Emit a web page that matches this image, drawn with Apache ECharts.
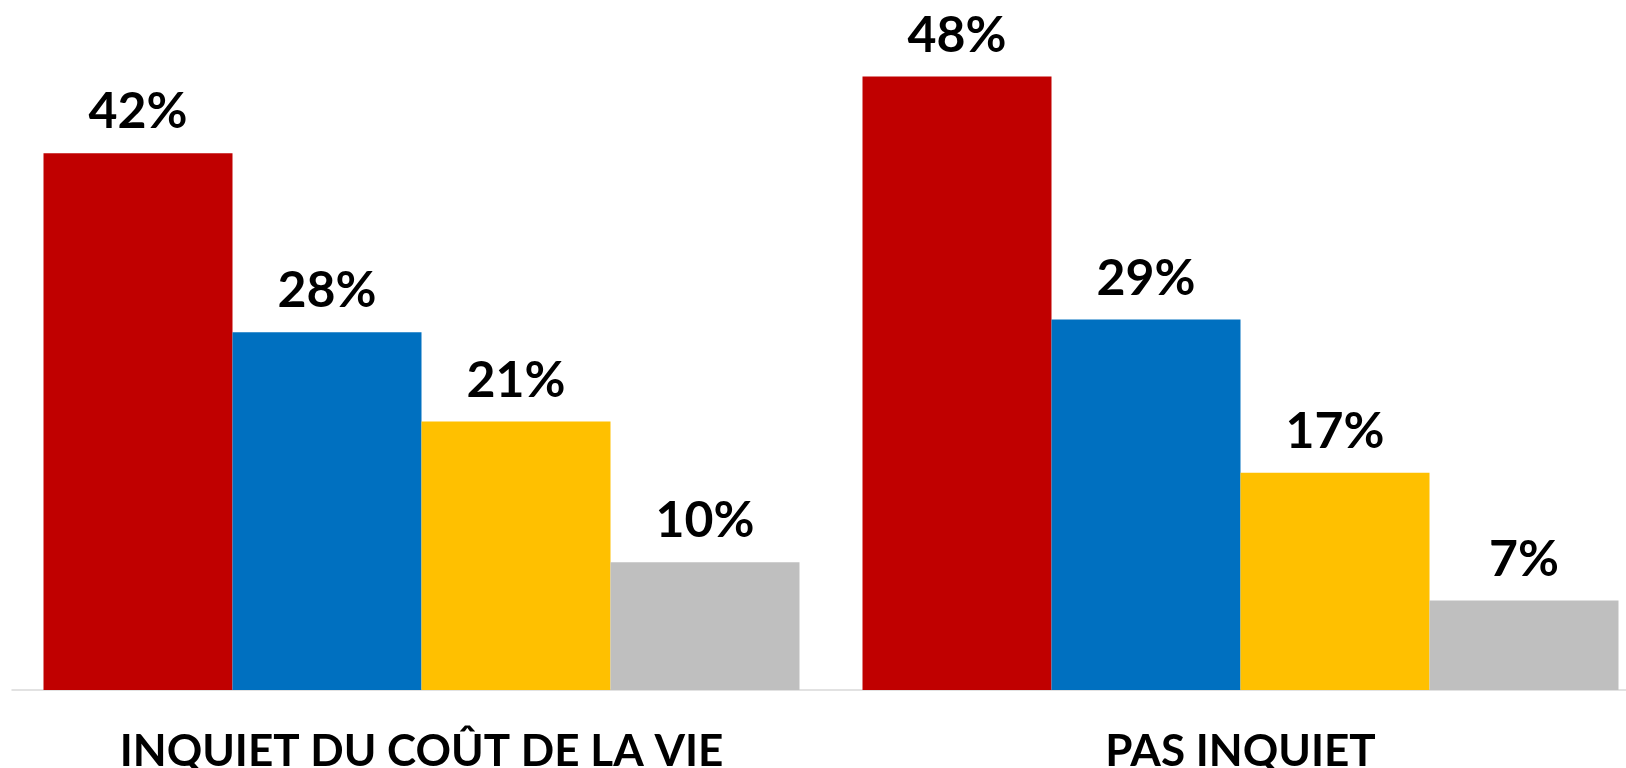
<!DOCTYPE html>
<html>
<head>
<meta charset="utf-8">
<script src="https://cdn.jsdelivr.net/npm/echarts@6/dist/echarts.min.js"></script>
<style>
html,body{margin:0;padding:0;background:#fff;}
#chart{width:1626px;height:768px;}
</style>
</head>
<body>
<div id="chart"></div>
<script>
const categories = ['INQUIET DU COÛT DE LA VIE', 'PAS INQUIET'];
const seriesNames = ['Série 1', 'Série 2', 'Série 3', 'Série 4'];
const serie1 = [42, 48];
const serie2 = [28, 29];
const serie3 = [21, 17];
const serie4 = [10, 7];
const colors = ['#C00000', '#0070C0', '#FFC000', '#BFBFBF'];

const FONT = 'Lato';
const allData = [serie1, serie2, serie3, serie4];

const chart = echarts.init(document.getElementById('chart'), null, {renderer: 'canvas'});
chart.setOption({
  animation: false,
  backgroundColor: '#ffffff',
  grid: {left: 12, top: 51, bottom: 78, width: 1638, containLabel: false, outerBoundsMode: 'none'},
  xAxis: {
    type: 'category',
    data: categories,
    axisLine: {show: true, lineStyle: {color: '#d9d9d9', width: 1.5}},
    axisTick: {show: false},
    axisLabel: {
      color: '#000', fontFamily: FONT, fontWeight: 'bold', fontSize: 44,
      margin: 40, interval: 0
    }
  },
  yAxis: {
    type: 'value', min: 0, max: 50,
    show: false, splitLine: {show: false}
  },
  series: allData.map((d, i) => ({
    name: seriesNames[i],
    type: 'bar',
    data: d,
    barWidth: 189,
    barGap: '0%',
    itemStyle: {color: colors[i]},
    label: {
      show: true, position: 'top', distance: 16,
      formatter: '{c}%',
      color: '#000', fontFamily: FONT, fontWeight: 'bold', fontSize: 50
    }
  }))
});
</script>
</body>
</html>
